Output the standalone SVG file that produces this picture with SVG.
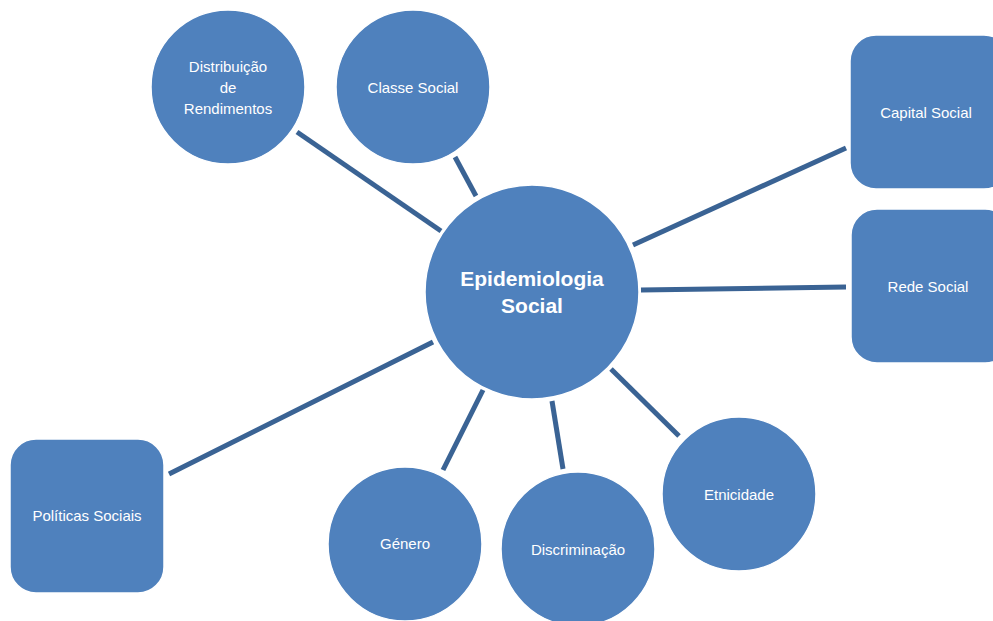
<svg xmlns="http://www.w3.org/2000/svg" width="993" height="621" viewBox="0 0 993 621">
  <style>
    .node { fill: #4F81BD; stroke: #ffffff; stroke-width: 1.5; }
    .label { fill: #ffffff; font-family: "Liberation Sans", Arial, sans-serif; font-size: 15px; text-anchor: middle; }
    .title { font-size: 21px; font-weight: bold; }
    .link { stroke: #3A6394; stroke-width: 5; fill: none; }
  </style>
  <rect width="993" height="621" fill="#ffffff"/>

  <g id="connectors">
    <line class="link" x1="297" y1="132" x2="441" y2="231"/>
    <line class="link" x1="455" y1="157" x2="476" y2="196"/>
    <line class="link" x1="633" y1="245" x2="846" y2="148"/>
    <line class="link" x1="641" y1="290" x2="846" y2="287"/>
    <line class="link" x1="169" y1="474" x2="433" y2="342"/>
    <line class="link" x1="443" y1="470" x2="483" y2="390"/>
    <line class="link" x1="563" y1="469" x2="552" y2="401"/>
    <line class="link" x1="679" y1="436" x2="611" y2="369"/>
  </g>

  <g id="distribuicao">
    <circle class="node" cx="228" cy="87" r="77"/>
    <text class="label" x="228" y="72">Distribuição</text>
    <text class="label" x="228" y="93">de</text>
    <text class="label" x="228" y="114">Rendimentos</text>
  </g>

  <g id="classe-social">
    <circle class="node" cx="413" cy="87" r="77"/>
    <text class="label" x="413" y="93">Classe Social</text>
  </g>

  <g id="capital-social">
    <rect class="node" x="850" y="35" width="160" height="154" rx="26"/>
    <text class="label" x="926" y="118">Capital Social</text>
  </g>

  <g id="rede-social">
    <rect class="node" x="851" y="209" width="160" height="154" rx="26"/>
    <text class="label" x="928" y="292">Rede Social</text>
  </g>

  <g id="epidemiologia-social">
    <circle class="node" cx="532" cy="292" r="107"/>
    <text class="label title" x="532" y="286">Epidemiologia</text>
    <text class="label title" x="532" y="313">Social</text>
  </g>

  <g id="politicas-sociais">
    <rect class="node" x="10" y="439" width="154" height="154" rx="26"/>
    <text class="label" x="87" y="521">Políticas Sociais</text>
  </g>

  <g id="genero">
    <circle class="node" cx="405" cy="544" r="77"/>
    <text class="label" x="405" y="549">Género</text>
  </g>

  <g id="discriminacao">
    <circle class="node" cx="578" cy="549" r="77"/>
    <text class="label" x="578" y="555">Discriminação</text>
  </g>

  <g id="etnicidade">
    <circle class="node" cx="739" cy="494" r="77"/>
    <text class="label" x="739" y="500">Etnicidade</text>
  </g>
</svg>
